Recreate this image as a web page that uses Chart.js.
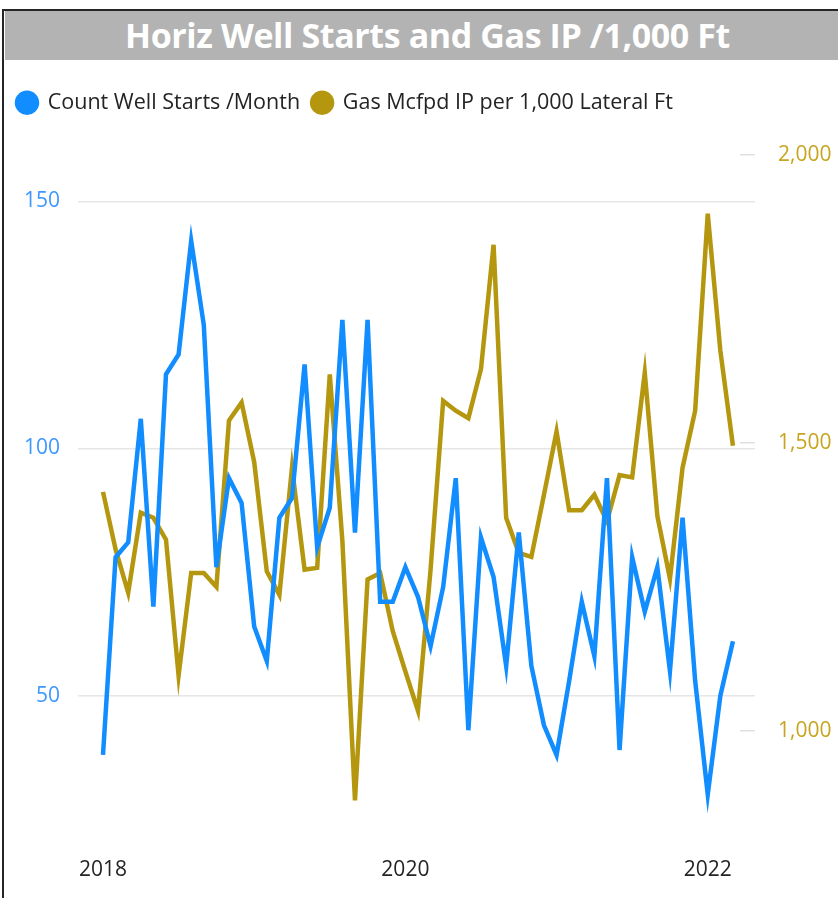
<!DOCTYPE html>
<html><head><meta charset="utf-8">
<script src="https://cdn.jsdelivr.net/npm/chart.js@4.4.1/dist/chart.umd.min.js"></script>
<style>
html,body{margin:0;padding:0;background:#fff;width:838px;height:898px;overflow:hidden;}
#frame{position:absolute;left:2px;top:9px;width:900px;height:900px;border-left:2px solid #252525;border-top:2px solid #252525;}
#title{position:absolute;left:5px;top:11px;width:845px;height:49px;background:#b3b3b3;color:#fff;font-family:"Open Sans",sans-serif;font-weight:700;font-size:34px;text-align:center;line-height:49px;letter-spacing:-0.4px;}
#wrap{position:absolute;left:5px;top:80px;width:833px;height:818px;}
</style></head>
<body>
<div id="frame"></div>
<div id="title">Horiz Well Starts and Gas IP /1,000 Ft</div>
<div id="wrap"><canvas id="c" width="833" height="818"></canvas></div>
<script>
const months = [
 '2018-01','2018-02','2018-03','2018-04','2018-05','2018-06','2018-07','2018-08','2018-09','2018-10','2018-11','2018-12',
 '2019-01','2019-02','2019-03','2019-04','2019-05','2019-06','2019-07','2019-08','2019-09','2019-10','2019-11','2019-12',
 '2020-01','2020-02','2020-03','2020-04','2020-05','2020-06','2020-07','2020-08','2020-09','2020-10','2020-11','2020-12',
 '2021-01','2021-02','2021-03','2021-04','2021-05','2021-06','2021-07','2021-08','2021-09','2021-10','2021-11','2021-12',
 '2022-01','2022-02','2022-03'];
const wellStarts = [
 38,78,81,106,68,115,119,142,125,76,94,89,
 64,57,86,90,117,80,88,126,83,126,69,69,
 76,70,60,72,94,43,82,74,56,83,56,44,
 38,53,69,58,94,39,78,67,76,55,86,53,
 30,50,61];
const gasIP = [
 1415,1315,1240,1379,1370,1332,1096,1274,1274,1250,1539,1570,
 1467,1277,1236,1457,1280,1283,1619,1330,879,1263,1274,1173,
 1103,1035,1280,1573,1556,1543,1628,1844,1370,1309,1302,1410,
 1520,1383,1383,1410,1364,1444,1440,1622,1373,1264,1457,1556,
 1898,1660,1495];
const xTickLabels = ['2018','2020','2022'];
const leftTicks = [50,100,150];
const rightTicks = [1000,1500,2000];

const xTickPos = xTickLabels.map(y => months.indexOf(y + '-01'));
const FONT = '"Open Sans", sans-serif';

const legendGap = {
  id: 'legendGap',
  beforeInit(chart) {
    const fit = chart.legend.fit;
    chart.legend.fit = function () { fit.call(this); this.height += 18; };
  }
};

new Chart(document.getElementById('c'), {
  type: 'line',
  plugins: [legendGap],
  data: {
    datasets: [
      { label: 'Count Well Starts /Month', data: wellStarts.map((v,i)=>({x:i,y:v})), yAxisID: 'y',
        borderColor: '#118DFF', backgroundColor: '#118DFF', borderWidth: 4.5, pointRadius: 0, tension: 0 },
      { label: 'Gas Mcfpd IP per 1,000 Lateral Ft', data: gasIP.map((v,i)=>({x:i,y:v})), yAxisID: 'y2',
        borderColor: '#B5970F', backgroundColor: '#B5970F', borderWidth: 4.5, pointRadius: 0, tension: 0 }
    ]
  },
  options: {
    responsive: false, animation: false, devicePixelRatio: 1,
    layout: { padding: { left: 0, right: 0, top: 0, bottom: 10 } },
    plugins: {
      tooltip: { enabled: false },
      legend: {
        position: 'top', align: 'start',
        labels: { usePointStyle: true, pointStyle: 'circle', pointStyleWidth: 20, boxHeight: 14,
          padding: 12, color: '#252423', font: { family: FONT, size: 21.5 } }
      }
    },
    scales: {
      x: {
        type: 'linear', min: -1.984, max: 51.75,
        afterBuildTicks: (s) => { s.ticks = xTickPos.map(v => ({ value: v })); },
        ticks: { callback: (v) => xTickLabels[xTickPos.indexOf(v)], color: '#252423', padding: 2,
          maxRotation: 0, autoSkip: false, font: { family: FONT, size: 21 } },
        grid: { display: false }, border: { display: false }
      },
      y: {
        position: 'left', min: 19.3, max: 162.1,
        afterBuildTicks: (s) => { s.ticks = leftTicks.map(v => ({ value: v })); },
        afterFit: (s) => { s.width = 73; },
        ticks: { color: '#3E97FF', padding: 18, font: { family: FONT, size: 21 } },
        grid: { color: '#E6E6E6', lineWidth: 1.5, drawTicks: false }, border: { display: false }
      },
      y2: {
        position: 'right', min: 797.5, max: 2023.5,
        afterBuildTicks: (s) => { s.ticks = rightTicks.map(v => ({ value: v })); },
        afterFit: (s) => { s.width = 83; },
        ticks: { color: '#C8A520', padding: 38, font: { family: FONT, size: 21 },
          callback: (v) => v.toLocaleString('en-US') },
        grid: { drawOnChartArea: false, color: '#E0E0E0', lineWidth: 1.5, tickLength: -15 }, border: { display: false }
      }
    }
  }
});
</script>
</body></html>
